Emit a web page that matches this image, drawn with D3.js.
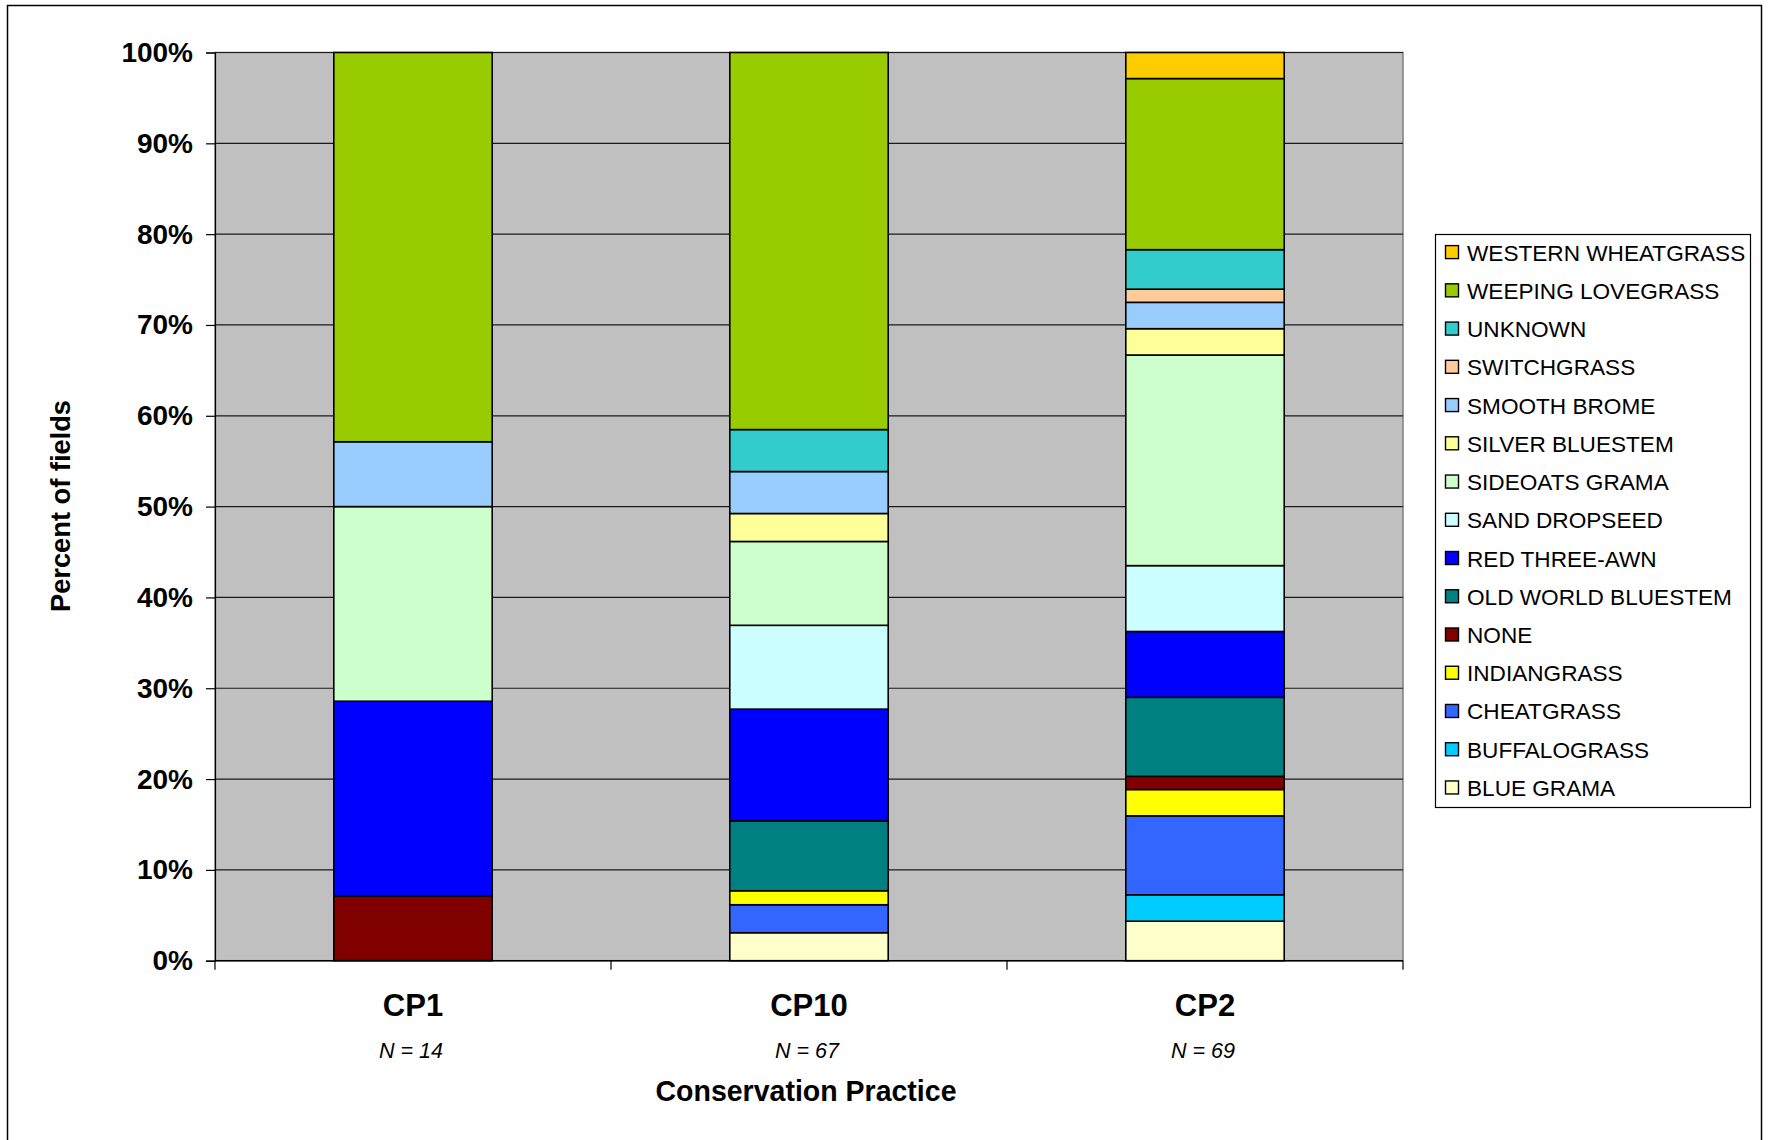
<!DOCTYPE html>
<html>
<head>
<meta charset="utf-8">
<script src="https://cdn.jsdelivr.net/npm/d3@7"></script>
<style>
  html, body { margin: 0; padding: 0; background: #fff; }
  svg { display: block; font-family: "Liberation Sans", Arial, sans-serif; }
</style>
</head>
<body>
<svg id="chart" width="1768" height="1140"></svg>
<script>
// ---- data ----
const categories = ["CP1", "CP10", "CP2"];
const nLabels = ["N = 14", "N = 67", "N = 69"];
// stacked bottom -> top
const species = [
  "BLUE GRAMA", "BUFFALOGRASS", "CHEATGRASS", "INDIANGRASS", "NONE",
  "OLD WORLD BLUESTEM", "RED THREE-AWN", "SAND DROPSEED", "SIDEOATS GRAMA",
  "SILVER BLUESTEM", "SMOOTH BROME", "SWITCHGRASS", "UNKNOWN",
  "WEEPING LOVEGRASS", "WESTERN WHEATGRASS"
];
const colors = [
  "#FFFFCC", "#00CCFF", "#3366FF", "#FFFF00", "#800000",
  "#008080", "#0000FF", "#CCFFFF", "#CCFFCC",
  "#FFFF99", "#99CCFF", "#FFCC99", "#33CCCC",
  "#99CC00", "#FFCC00"
];
// percent of fields, per category [CP1, CP10, CP2]
const blueGrama         = [0,     3.08,  4.35];
const buffalograss      = [0,     0,     2.90];
const cheatgrass        = [0,     3.08,  8.70];
const indiangrass       = [0,     1.54,  2.90];
const none              = [7.14,  0,     1.45];
const oldWorldBluestem  = [0,     7.69,  8.70];
const redThreeAwn       = [21.43, 12.31, 7.25];
const sandDropseed      = [0,     9.23,  7.25];
const sideoatsGrama     = [21.43, 9.23,  23.19];
const silverBluestem    = [0,     3.08,  2.90];
const smoothBrome       = [7.14,  4.62,  2.90];
const switchgrass       = [0,     0,     1.45];
const unknown           = [0,     4.62,  4.35];
const weepingLovegrass  = [42.86, 41.54, 18.84];
const westernWheatgrass = [0,     0,     2.90];
const seriesValues = [
  blueGrama, buffalograss, cheatgrass, indiangrass, none,
  oldWorldBluestem, redThreeAwn, sandDropseed, sideoatsGrama,
  silverBluestem, smoothBrome, switchgrass, unknown,
  weepingLovegrass, westernWheatgrass
];
const yTicks = [0, 10, 20, 30, 40, 50, 60, 70, 80, 90, 100];
const yTickLabels = ["0%", "10%", "20%", "30%", "40%", "50%", "60%", "70%", "80%", "90%", "100%"];

// ---- layout ----
const svg = d3.select("#chart");
const plot = { left: 215, right: 1403, top: 52.5, bottom: 960.7 };

// outer border
svg.append("rect")
  .attr("x", 7.5).attr("y", 5.5)
  .attr("width", 1754).attr("height", 1150)
  .attr("fill", "#fff").attr("stroke", "#000").attr("stroke-width", 1.5);

const x = d3.scaleBand()
  .domain(categories)
  .range([plot.left, plot.right])
  .paddingInner(0.6)
  .paddingOuter(0.3);
const y = d3.scaleLinear().domain([0, 100]).range([plot.bottom, plot.top]);

// plot background
svg.append("rect")
  .attr("x", plot.left).attr("y", plot.top)
  .attr("width", plot.right - plot.left).attr("height", plot.bottom - plot.top)
  .attr("fill", "#C0C0C0").attr("stroke", "#808080").attr("stroke-width", 1.5);

// gridlines
svg.append("g").selectAll("line")
  .data(yTicks.filter(d => d > 0))
  .join("line")
  .attr("x1", plot.left).attr("x2", plot.right)
  .attr("y1", d => y(d)).attr("y2", d => y(d))
  .attr("stroke", "#1a1a1a").attr("stroke-width", 1.2);

// y axis
const yAxis = d3.axisLeft(y)
  .tickValues(yTicks)
  .tickFormat((d, i) => yTickLabels[i])
  .tickSize(9)
  .tickPadding(13);
const yg = svg.append("g").attr("transform", `translate(${plot.left},0)`).call(yAxis);
yg.select(".domain").attr("stroke", "#000").attr("stroke-width", 1.2);
yg.selectAll(".tick line").attr("stroke", "#000").attr("stroke-width", 1.2);
yg.selectAll(".tick text")
  .attr("font-size", 28).attr("font-weight", "bold").attr("fill", "#000")
  .attr("font-family", "Liberation Sans, Arial, sans-serif");

// x axis (ticks at category boundaries)
const step = x.step();
const boundaries = d3.range(categories.length + 1).map(i => plot.left + i * step);
svg.append("line")
  .attr("x1", plot.left).attr("x2", plot.right)
  .attr("y1", plot.bottom).attr("y2", plot.bottom)
  .attr("stroke", "#000").attr("stroke-width", 1.5);
svg.append("g").selectAll("line")
  .data(boundaries)
  .join("line")
  .attr("x1", d => d).attr("x2", d => d)
  .attr("y1", plot.bottom).attr("y2", plot.bottom + 9)
  .attr("stroke", "#000").attr("stroke-width", 1.2);

// stacked bars
const rows = categories.map((c, ci) => {
  const o = { cat: c };
  species.forEach((s, si) => { o[s] = seriesValues[si][ci]; });
  return o;
});
const stack = d3.stack().keys(species)(rows);
const layers = svg.append("g").selectAll("g")
  .data(stack)
  .join("g")
  .attr("fill", (d, i) => colors[i]);
layers.selectAll("rect")
  .data(d => d.filter(p => p[1] - p[0] > 0))
  .join("rect")
  .attr("x", d => x(d.data.cat))
  .attr("width", x.bandwidth())
  .attr("y", d => y(Math.min(100, d[1])))
  .attr("height", d => y(d[0]) - y(Math.min(100, d[1])))
  .attr("stroke", "#000").attr("stroke-width", 1.6);

// category labels
svg.append("g").selectAll("text")
  .data(categories)
  .join("text")
  .attr("x", d => x(d) + x.bandwidth() / 2)
  .attr("y", 1016)
  .attr("text-anchor", "middle")
  .attr("font-size", 31).attr("font-weight", "bold")
  .text(d => d);

svg.append("g").selectAll("text")
  .data(nLabels)
  .join("text")
  .attr("x", (d, i) => x(categories[i]) + x.bandwidth() / 2 - 2)
  .attr("y", 1058)
  .attr("text-anchor", "middle")
  .attr("font-size", 21.5).attr("font-style", "italic")
  .text(d => d);

// axis titles
svg.append("text")
  .attr("x", (plot.left + plot.right) / 2 - 3)
  .attr("y", 1101)
  .attr("text-anchor", "middle")
  .attr("font-size", 30).attr("font-weight", "bold")
  .attr("textLength", 301).attr("lengthAdjust", "spacingAndGlyphs")
  .text("Conservation Practice");

svg.append("text")
  .attr("transform", "translate(70,506) rotate(-90)")
  .attr("text-anchor", "middle")
  .attr("font-size", 27).attr("font-weight", "bold")
  .attr("textLength", 212).attr("lengthAdjust", "spacingAndGlyphs")
  .text("Percent of fields");

// legend (top -> bottom is reverse of stack order)
const legend = svg.append("g");
legend.append("rect")
  .attr("x", 1435.5).attr("y", 234.5)
  .attr("width", 315).attr("height", 573)
  .attr("fill", "#fff").attr("stroke", "#000").attr("stroke-width", 1.2);
const legendItems = species.map((s, i) => ({ name: s, color: colors[i] })).reverse();
const li = legend.selectAll("g.item")
  .data(legendItems)
  .join("g")
  .attr("class", "item")
  .attr("transform", (d, i) => `translate(0, ${252.6 + i * 38.24})`);
li.append("rect")
  .attr("x", 1445.5).attr("y", -7)
  .attr("width", 13).attr("height", 13)
  .attr("fill", d => d.color)
  .attr("stroke", "#000").attr("stroke-width", 1.4);
li.append("text")
  .attr("x", 1467).attr("y", 8)
  .attr("font-size", 22.6)
  .text(d => d.name);
</script>
</body>
</html>
